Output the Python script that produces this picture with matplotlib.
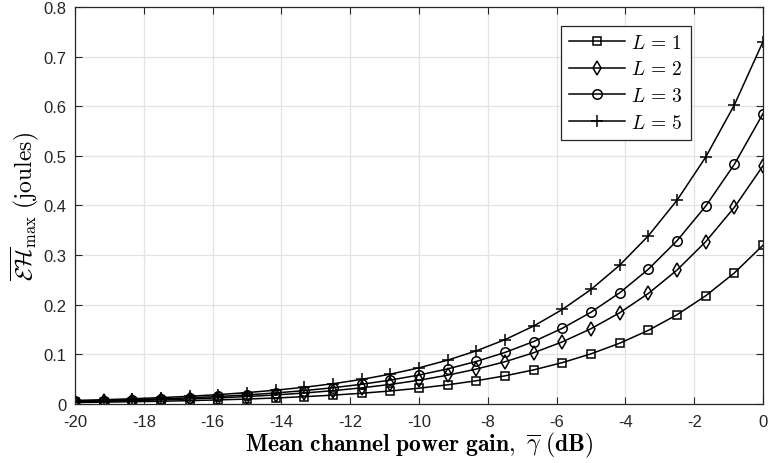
import matplotlib
matplotlib.use("Agg")
import matplotlib.pyplot as plt

plt.rcParams["mathtext.fontset"] = "cm"
plt.rcParams["font.family"] = ["Liberation Sans", "DejaVu Sans"]

# Mean channel power gain (dB)
gamma_db = [-20.0, -19.167, -18.333, -17.5, -16.667, -15.833, -15.0, -14.167,
            -13.333, -12.5, -11.667, -10.833, -10.0, -9.167, -8.333, -7.5,
            -6.667, -5.833, -5.0, -4.167, -3.333, -2.5, -1.667, -0.833, 0.0]

# Maximum harvested energy (joules) for each number of antennas L
eh_L1 = [0.0032, 0.0039, 0.0047, 0.0057, 0.0069, 0.0084, 0.0101, 0.0123,
         0.0149, 0.0180, 0.0218, 0.0264, 0.0320, 0.0388, 0.0470, 0.0569,
         0.0689, 0.0835, 0.1012, 0.1226, 0.1485, 0.1799, 0.2180, 0.2641, 0.3200]
eh_L2 = [0.0048, 0.0058, 0.0070, 0.0085, 0.0103, 0.0125, 0.0152, 0.0184,
         0.0223, 0.0270, 0.0327, 0.0396, 0.0480, 0.0582, 0.0705, 0.0853,
         0.1034, 0.1253, 0.1518, 0.1839, 0.2228, 0.2699, 0.3270, 0.3962, 0.4800]
eh_L3 = [0.0059, 0.0071, 0.0086, 0.0104, 0.0126, 0.0153, 0.0185, 0.0224,
         0.0272, 0.0329, 0.0399, 0.0483, 0.0585, 0.0709, 0.0859, 0.1040,
         0.1260, 0.1527, 0.1850, 0.2241, 0.2716, 0.3290, 0.3986, 0.4829, 0.5850]
eh_L5 = [0.0073, 0.0088, 0.0107, 0.0130, 0.0157, 0.0191, 0.0231, 0.0280,
         0.0339, 0.0410, 0.0497, 0.0603, 0.0730, 0.0885, 0.1072, 0.1298,
         0.1572, 0.1905, 0.2308, 0.2797, 0.3389, 0.4105, 0.4973, 0.6025, 0.7300]

labels = [r"$L\,{=}\,1$", r"$L\,{=}\,2$", r"$L\,{=}\,3$", r"$L\,{=}\,5$"]
markers = ["s", "d", "o", "+"]
marker_sizes = [6, 7, 6.8, 8]

x_ticks = [-20, -18, -16, -14, -12, -10, -8, -6, -4, -2, 0]
y_ticks = [0, 0.1, 0.2, 0.3, 0.4, 0.5, 0.6, 0.7, 0.8]
y_ticklabels = ["0", "0.1", "0.2", "0.3", "0.4", "0.5", "0.6", "0.7", "0.8"]

fig = plt.figure(figsize=(7.68, 4.64), dpi=100)
ax = fig.add_axes([0.0977, 0.127, 0.8958, 0.856])

for series, lab, mk, ms in zip([eh_L1, eh_L2, eh_L3, eh_L5], labels, markers, marker_sizes):
    ax.plot(gamma_db, series, color="black", linewidth=1.1, marker=mk,
            markersize=ms, markerfacecolor="none",
            markeredgecolor="black", markeredgewidth=1.1, label=lab)

ax.set_xlim(-20, 0)
ax.set_ylim(0, 0.8)
ax.set_xticks(x_ticks)
ax.set_xticklabels([str(t) for t in x_ticks])
ax.set_yticks(y_ticks)
ax.set_yticklabels(y_ticklabels)

ax.grid(True, color="#e3e3e3", linewidth=0.9)
ax.set_axisbelow(True)
ax.tick_params(direction="in", top=True, right=True, length=5, width=0.8,
               labelsize=12, colors="#262626", labelcolor="#262626")
ax.tick_params(axis="y", pad=6)
ax.tick_params(axis="x", pad=7)
for sp in ax.spines.values():
    sp.set_color("#262626")
    sp.set_linewidth(0.9)

ax.set_xlabel(r"$\mathbf{Mean\ channel\ power\ gain,}\ \overline{\gamma}\ \mathbf{(dB)}$",
              fontsize=17, labelpad=1)
ax.set_ylabel(r"$\overline{\mathcal{E}\mathcal{H}}_{\max}\ \mathrm{(joules)}$",
              fontsize=17, labelpad=2)

leg = ax.legend(loc="upper right", bbox_to_anchor=(0.895, 0.952), fontsize=14,
                handlelength=2.9, handletextpad=0.3, borderpad=0.4,
                labelspacing=0.45, fancybox=False, framealpha=1,
                edgecolor="#262626", borderaxespad=0)
leg.get_frame().set_linewidth(0.9)

fig.savefig("out.png", dpi=100)
